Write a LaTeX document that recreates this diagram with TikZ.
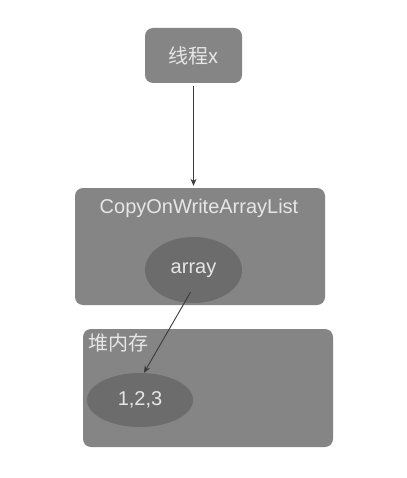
\documentclass[tikz,border=0pt]{standalone}
\usepackage{fontspec}
\setmainfont{Liberation Sans}
\newfontfamily\cjk{Noto Sans CJK SC}
\usetikzlibrary{arrows.meta,shapes.geometric}
\definecolor{boxgray}{HTML}{858585}
\definecolor{ellgray}{HTML}{6C6C6C}
\definecolor{txtgray}{HTML}{E6E6E6}
\definecolor{linegray}{HTML}{3A3A3A}
\tikzset{
  graybox/.style={fill=boxgray,rounded corners=8pt,inner sep=0pt},
  grayell/.style={ellipse,fill=ellgray,inner sep=0pt},
  lighttxt/.style={text=txtgray,font=\fontsize{20}{23}\selectfont},
  conn/.style={draw=linegray,line width=0.9pt,-{Stealth[length=7pt,width=6pt]}},
}
\begin{document}
\begin{tikzpicture}[x=1pt,y=-1pt]
\useasboundingbox[fill=white] (0,0) rectangle (406,478);
% thread
\node[graybox,lighttxt,minimum width=97pt,minimum height=55pt] (thread) at (193.5,55.5) {\cjk 线程x};
% list object
\node[graybox,minimum width=250pt,minimum height=117pt] (list) at (200,246.5) {};
\node[lighttxt] (listname) at (199,208) {CopyOnWriteArrayList};
\node[grayell,lighttxt,minimum width=97pt,minimum height=66pt] (array) at (193.5,270) {array};
% heap
\node[graybox,minimum width=250pt,minimum height=118pt] (heap) at (208,388) {};
\node[lighttxt,anchor=west,inner sep=0pt] (heapname) at (88,343) {\cjk 堆内存};
\node[grayell,lighttxt,minimum width=106pt,minimum height=54pt] (values) at (140,400) {1,2,3};
% arrows
\draw[conn,shorten <=3pt,shorten >=2pt] (thread.south) -- (thread.south |- list.north);
\draw[conn] ([shift={(-3,-11)}]array.south) -- ([xshift=4pt]values.north);
\end{tikzpicture}
\end{document}
